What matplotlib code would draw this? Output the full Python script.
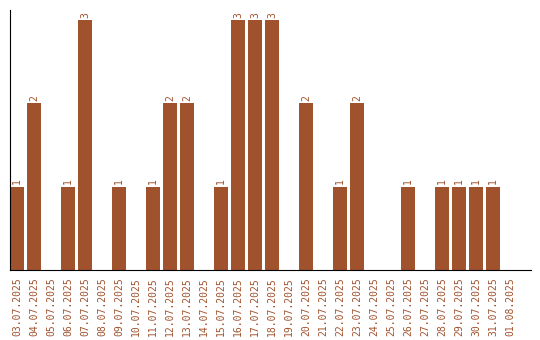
import matplotlib
matplotlib.use("Agg")
import matplotlib.pyplot as plt

dates = ["03.07.2025", "04.07.2025", "05.07.2025", "06.07.2025", "07.07.2025",
         "08.07.2025", "09.07.2025", "10.07.2025", "11.07.2025", "12.07.2025",
         "13.07.2025", "14.07.2025", "15.07.2025", "16.07.2025", "17.07.2025",
         "18.07.2025", "19.07.2025", "20.07.2025", "21.07.2025", "22.07.2025",
         "23.07.2025", "24.07.2025", "25.07.2025", "26.07.2025", "27.07.2025",
         "28.07.2025", "29.07.2025", "30.07.2025", "31.07.2025", "01.08.2025"]
counts = [1, 2, 0, 1, 3, 0, 1, 0, 1, 2, 2, 0, 1, 3, 3, 3, 0, 2, 0, 1, 2,
          0, 0, 1, 0, 1, 1, 1, 1, 0]

color = "#A0522D"
fig = plt.figure(figsize=(5.4, 3.4), dpi=100)
ax = fig.add_axes([10/540, 70/340, 521/540, 260/340])
x = list(range(len(dates)))
ax.bar(x, counts, width=14/17, color=color)
for xi, v in zip(x, counts):
    if v > 0:
        ax.text(xi, v + 0.03, str(v), rotation=90, ha="center", va="bottom",
                color=color, fontsize=7, family="DejaVu Sans Mono")
ax.set_xlim(-0.41, 30.24)
ax.set_ylim(0, 3.12)
ax.set_xticks(x)
ax.set_xticklabels(dates, rotation=90, color=color, fontsize=7,
                   family="DejaVu Sans Mono")
ax.tick_params(axis="x", length=0, pad=5)
ax.set_yticks([])
ax.spines["top"].set_visible(False)
ax.spines["right"].set_visible(False)
ax.spines["left"].set_color("black")
ax.spines["bottom"].set_color("black")
fig.savefig("out.png", dpi=100)
